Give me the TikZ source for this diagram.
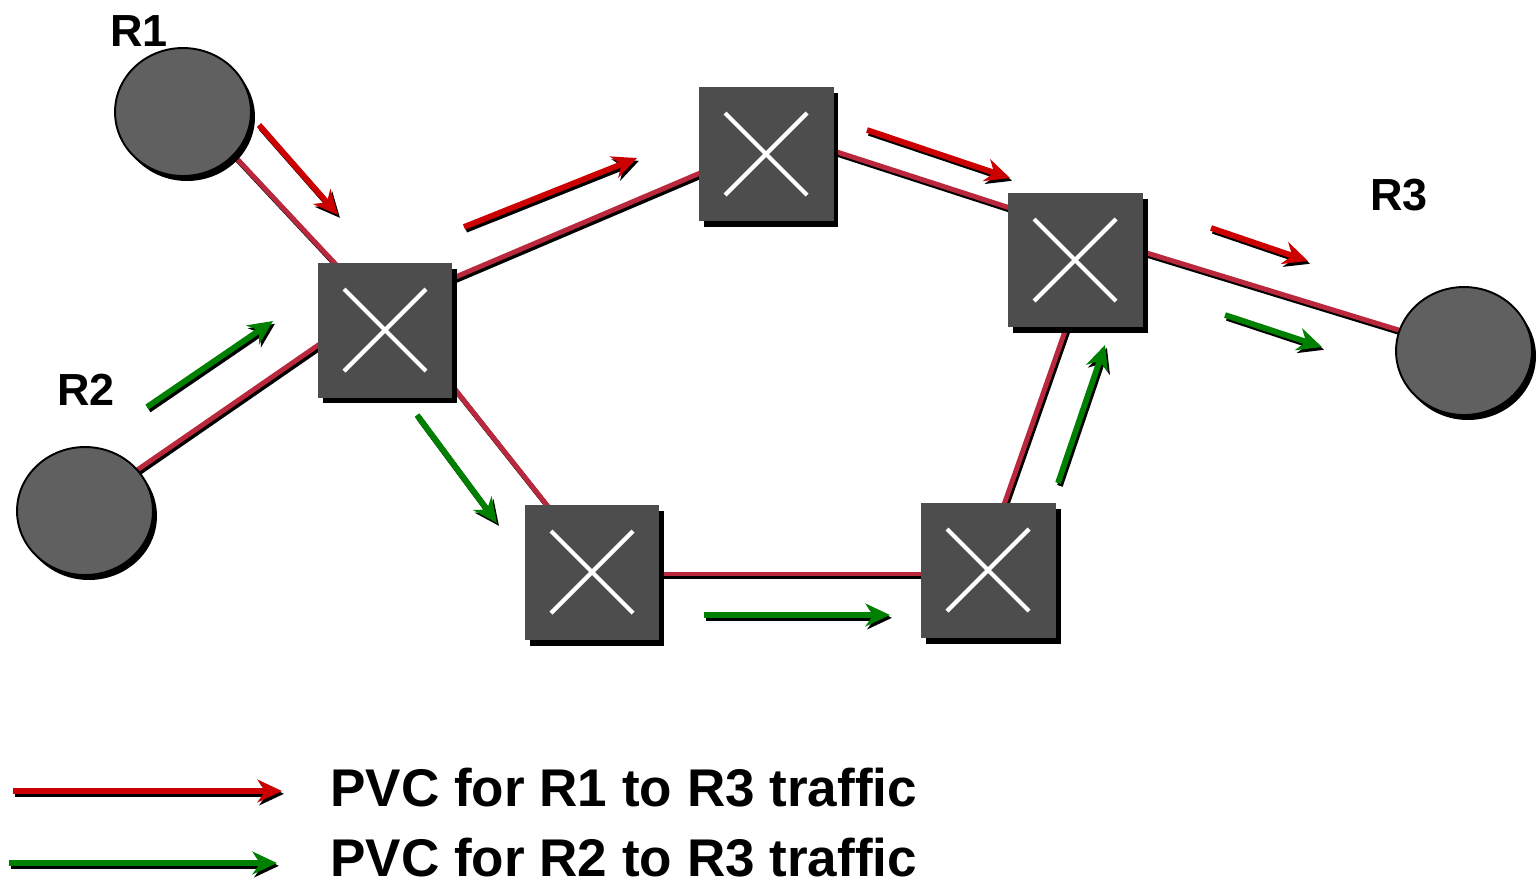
\documentclass[tikz,border=0pt]{standalone}
\usepackage{fontspec}
\setmainfont{Liberation Sans}
\usetikzlibrary{arrows.meta,calc,shadows,shapes.geometric}
\pgfdeclarelayer{background}
\pgfsetlayers{background,main}

\definecolor{linkred}{RGB}{185,40,60}
\definecolor{pvcred}{RGB}{204,0,0}
\definecolor{pvcgreen}{RGB}{0,128,0}
\definecolor{swgray}{RGB}{77,77,77}
\definecolor{rtgray}{RGB}{96,96,96}

% a physical link: black drop line under a crimson line
\newcommand\netlink[2]{%
  \draw[linkshade] #1 -- #2;
  \draw[linkbody] #1 -- #2;}
% a traffic arrow with its black drop copy
\newcommand\pvcarrow[3]{%
  \draw[pvcline, draw=black, transform canvas={xshift=1.1pt,yshift=-1.6pt}] #2 -- #3;
  \draw[pvcline, draw=#1] #2 -- #3;}
% the white cross on a switch
\newcommand\swcross[1]{%
  \draw[cross] ($(#1)+(-41,-41)$) -- ($(#1)+(41,41)$);
  \draw[cross] ($(#1)+(-41,41)$) -- ($(#1)+(41,-41)$);}

\begin{document}
\begin{tikzpicture}[x=0.02cm,y=-0.02cm,
  switchbox/.style={rectangle, fill=swgray, minimum size=2.7cm, inner sep=0pt,
    drop shadow={shadow xshift=0.1cm, shadow yshift=-0.12cm, fill=black, opacity=1}},
  router/.style={ellipse, draw=black, line width=1.1pt, fill=rtgray,
    minimum width=2.72cm, minimum height=2.56cm, inner sep=0pt,
    drop shadow={shadow xshift=0.08cm, shadow yshift=-0.1cm, fill=black, opacity=1}},
  cross/.style={draw=white, line width=2.4pt},
  linkbody/.style={draw=linkred, line width=2.8pt},
  linkshade/.style={draw=black, line width=2.8pt, transform canvas={xshift=1.1pt, yshift=-1.6pt}},
  pvcline/.style={line width=3.3pt, -{Stealth[length=14pt,width=13pt,inset=4.5pt]}},
  lbl/.style={font=\fontsize{25.6}{30}\selectfont\bfseries, inner sep=0pt},
  legend/.style={font=\fontsize{30.2}{36}\selectfont\bfseries, inner sep=0pt, anchor=base west}
]
\useasboundingbox (0,0) rectangle (1537,887);

% routers
\node[router] (r1) at (183,112) {};
\node[router] (r2) at (85,511) {};
\node[router] (r3) at (1464,351) {};

% frame relay switches
\node[switchbox] (s1) at (385,330) {};
\node[switchbox] (s2) at (766,154) {};
\node[switchbox] (s3) at (1075,260) {};
\node[switchbox] (s4) at (592,572) {};
\node[switchbox] (s5) at (988,570) {};
\swcross{s1}\swcross{s2}\swcross{s3}\swcross{s4}\swcross{s5}

% links, behind the nodes
\begin{pgfonlayer}{background}
\netlink{($(r1)+(0,-11)$)}{($(s1)+(0,-13)$)}
\netlink{($(r2)+(0,-5)$)}{($(s1)+(0,-31)$)}
\netlink{($(s1)+(0,-23)$)}{($(s2)+(0,-9)$)}
\netlink{($(s2)+(0,-25)$)}{($(s3)+(0,-31)$)}
\netlink{($(s3)+(0,-29)$)}{($(r3)+(0,-1)$)}
\netlink{($(s1)+(0,-29)$)}{($(s4)+(0,-10)$)}
\netlink{($(s4)+(0,2)$)}{($(s5)+(0,4)$)}
\netlink{($(s5)+(-7,0)$)}{($(s3)+(15,0)$)}
\end{pgfonlayer}

% router labels
\node[lbl] (l1) at (139,31) {R1};
\node[lbl] (l2) at (86,390) {R2};
\node[lbl] (l3) at (1399,195) {R3};

% PVC R1 -> R3
\pvcarrow{pvcred}{(259,125)}{(338,215)}
\pvcarrow{pvcred}{(464,227)}{(637,158)}
\pvcarrow{pvcred}{(867,130)}{(1010,178)}
\pvcarrow{pvcred}{(1211,228)}{(1308,261)}

% PVC R2 -> R3
\pvcarrow{pvcgreen}{(147,407)}{(273,321)}
\pvcarrow{pvcgreen}{(417,415)}{(497,523)}
\pvcarrow{pvcgreen}{(704,615)}{(890,615)}
\pvcarrow{pvcgreen}{(1058,483)}{(1105,345)}
\pvcarrow{pvcgreen}{(1225,315)}{(1322,347)}

% legend
\pvcarrow{pvcred}{(13,791)}{(282,791)}
\pvcarrow{pvcgreen}{(9,863)}{(277,863)}
\node[legend] (t1) at (330,806) {PVC for R1 to R3 traffic};
\node[legend] (t2) at (330,876) {PVC for R2 to R3 traffic};
\end{tikzpicture}
\end{document}
